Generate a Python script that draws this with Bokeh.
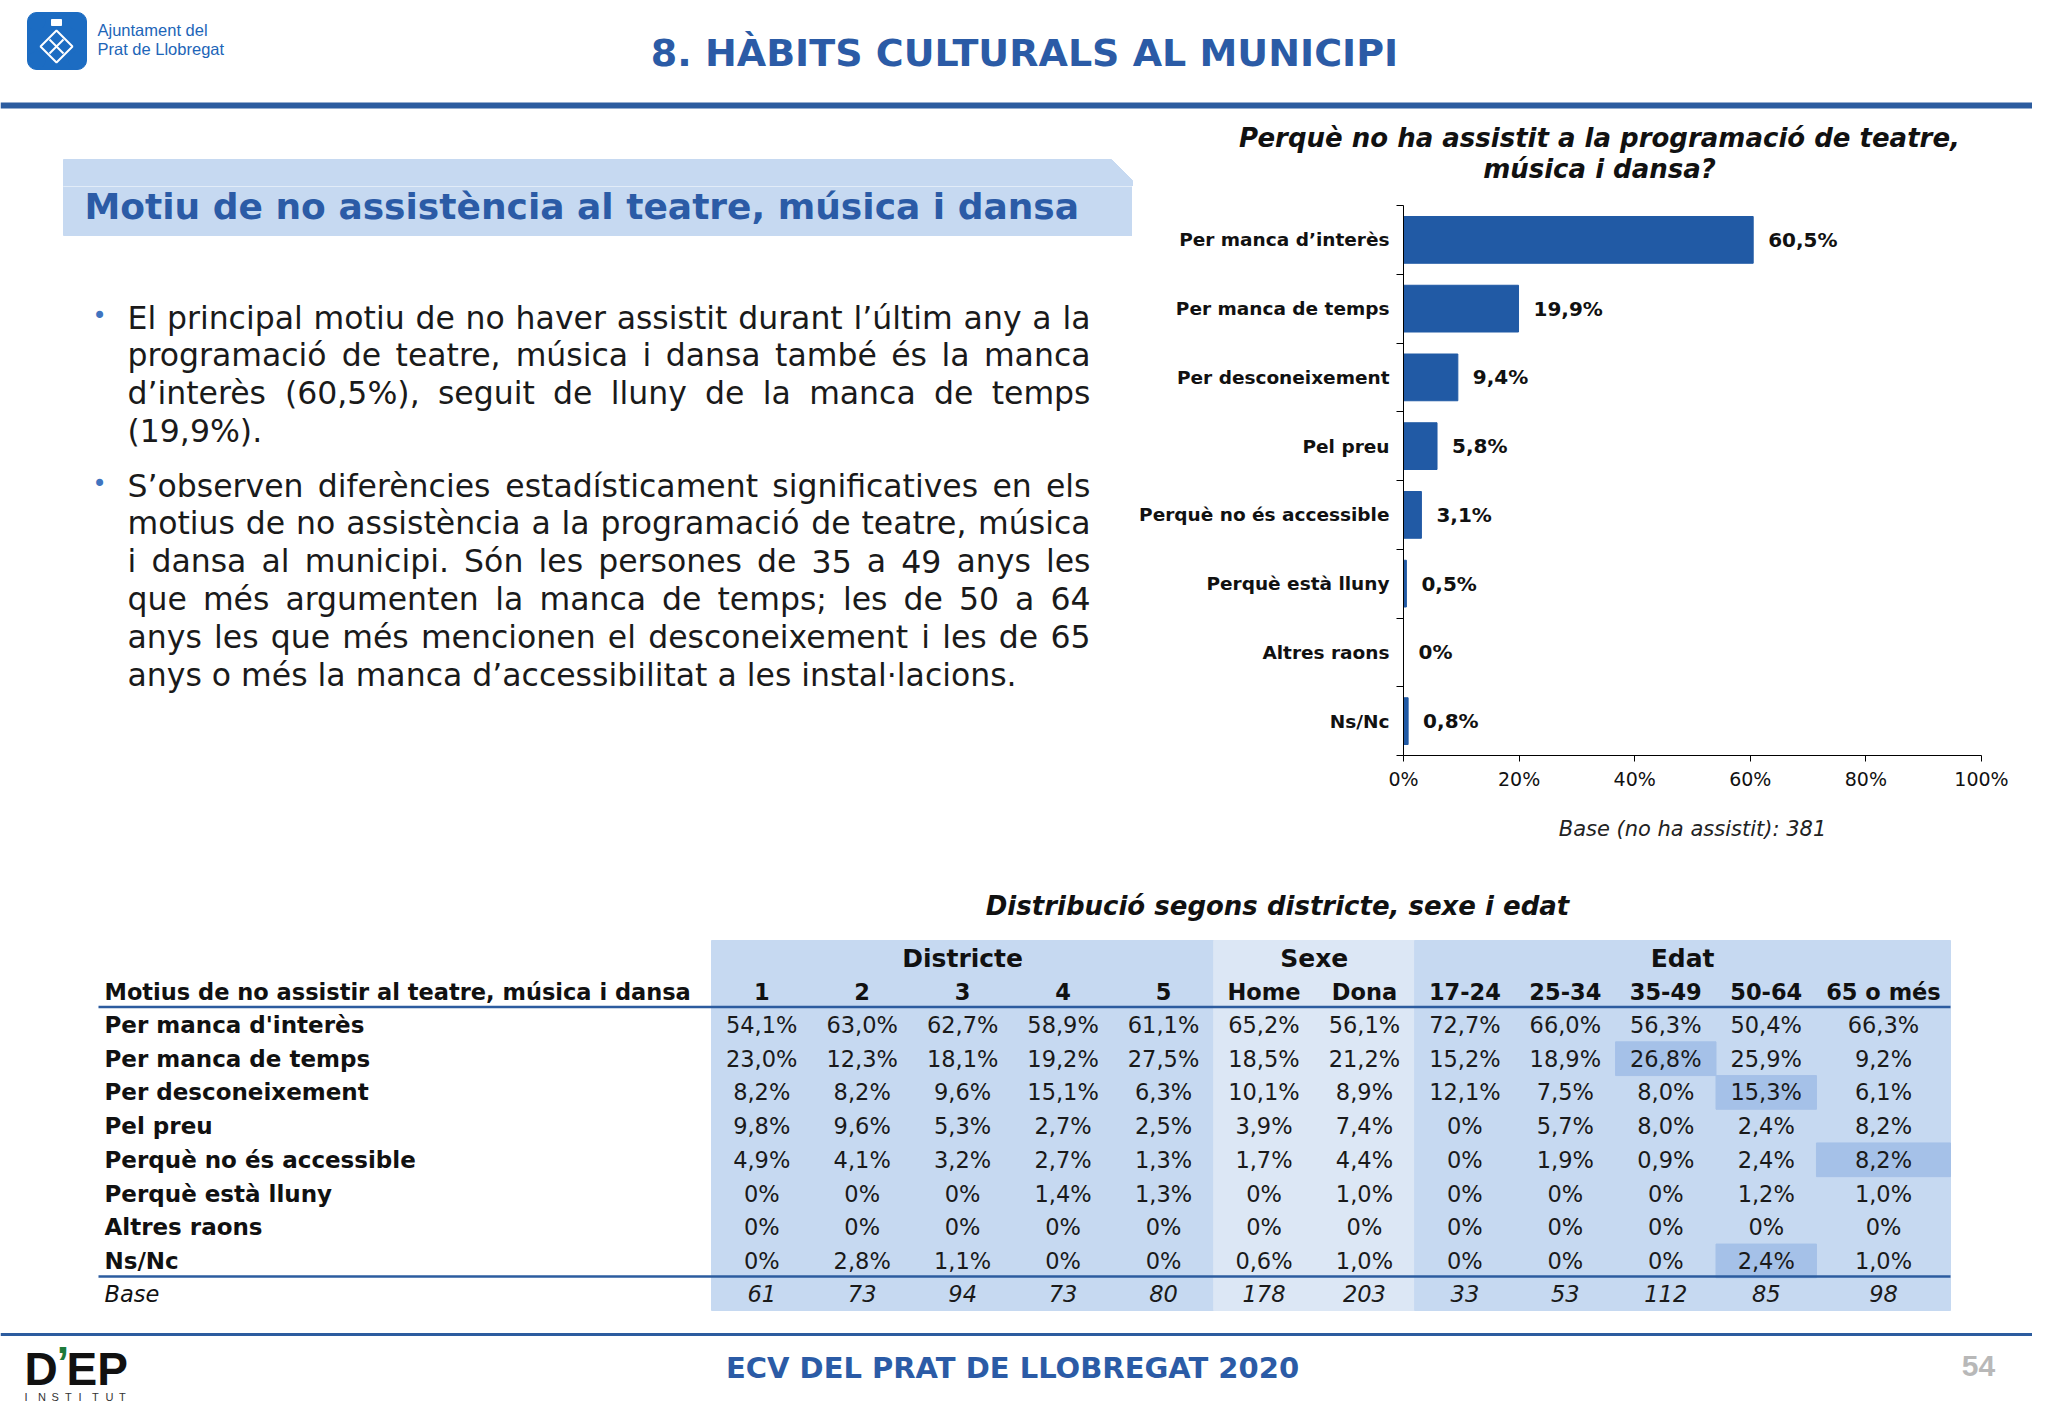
from bokeh.plotting import figure
from bokeh.layouts import column, row
from bokeh.models import Range1d, FixedTicker, PrintfTickFormatter
from bokeh.core.properties import value
from bokeh.embed import file_html
from bokeh.resources import INLINE

# ---------------- data ----------------
page_title = "8. HÀBITS CULTURALS AL MUNICIPI"
section_title = "Motiu de no assistència al teatre, música i dansa"
bullet_1 = ["El principal motiu de no haver assistit durant l’últim any a la",
            "programació de teatre, música i dansa també és la manca",
            "d’interès (60,5%), seguit de lluny de la manca de temps",
            "(19,9%)."]
bullet_2 = ["S’observen diferències estadísticament significatives en els",
            "motius de no assistència a la programació de teatre, música",
            "i dansa al municipi. Són les persones de 35 a 49 anys les",
            "que més argumenten la manca de temps; les de 50 a 64",
            "anys les que més mencionen el desconeixement i les de 65",
            "anys o més la manca d’accessibilitat a les instal·lacions."]

chart_title = ["Perquè no ha assistit a la programació de teatre,", "música i dansa?"]
categories = ["Per manca d’interès", "Per manca de temps", "Per desconeixement", "Pel preu",
              "Perquè no és accessible", "Perquè està lluny", "Altres raons", "Ns/Nc"]
values = [60.5, 19.9, 9.4, 5.8, 3.1, 0.5, 0.0, 0.8]
x_ticks = [0, 20, 40, 60, 80, 100]
base_note = "Base (no ha assistit): 381"

table_title = "Distribució segons districte, sexe i edat"
table_corner = "Motius de no assistir al teatre, música i dansa"
groups = ["Districte", "Sexe", "Edat"]
group_sizes = [5, 2, 5]
columns = ["1", "2", "3", "4", "5", "Home", "Dona", "17-24", "25-34", "35-49", "50-64", "65 o més"]
row_labels = ["Per manca d'interès", "Per manca de temps", "Per desconeixement", "Pel preu",
              "Perquè no és accessible", "Perquè està lluny", "Altres raons", "Ns/Nc"]
row_interes = [54.1, 63.0, 62.7, 58.9, 61.1, 65.2, 56.1, 72.7, 66.0, 56.3, 50.4, 66.3]
row_temps = [23.0, 12.3, 18.1, 19.2, 27.5, 18.5, 21.2, 15.2, 18.9, 26.8, 25.9, 9.2]
row_descon = [8.2, 8.2, 9.6, 15.1, 6.3, 10.1, 8.9, 12.1, 7.5, 8.0, 15.3, 6.1]
row_preu = [9.8, 9.6, 5.3, 2.7, 2.5, 3.9, 7.4, 0, 5.7, 8.0, 2.4, 8.2]
row_access = [4.9, 4.1, 3.2, 2.7, 1.3, 1.7, 4.4, 0, 1.9, 0.9, 2.4, 8.2]
row_lluny = [0, 0, 0, 1.4, 1.3, 0, 1.0, 0, 0, 0, 1.2, 1.0]
row_altres = [0, 0, 0, 0, 0, 0, 0, 0, 0, 0, 0, 0]
row_nsnc = [0, 2.8, 1.1, 0, 0, 0.6, 1.0, 0, 0, 0, 2.4, 1.0]
table_rows = [row_interes, row_temps, row_descon, row_preu, row_access, row_lluny, row_altres, row_nsnc]
base_label = "Base"
base_counts = [61, 73, 94, 73, 80, 178, 203, 33, 53, 112, 85, 98]
significant = [(1, 9), (2, 10), (4, 11), (7, 10)]  # (row, column) highlighted cells

footer_text = "ECV DEL PRAT DE LLOBREGAT 2020"
page_number = "54"


def pct(v):
    return "0%" if v == 0 else f"{v:.1f}".replace(".", ",") + "%"


# ---------------- style ----------------
BLUE_TXT = "#2B5BA6"
BLUE_LINE = "#2C5C9F"
BAR = "#215AA5"
LIGHT = "#C6D9F1"
LIGHTER = "#DCE7F5"
HILITE = "#A5C1E8"
FONT = "DejaVu Sans"
PAGE_W = 2032
SPLIT_X = 1132
HDR_H = 186
ROW_B = 880
PAGE_H = 1402


def canvas(x0, x1, y0, y1):
    p = figure(width=x1 - x0, height=y1 - y0, x_range=Range1d(x0, x1), y_range=Range1d(y1, y0),
               x_axis_type=None, y_axis_type=None, toolbar_location=None, output_backend="svg",
               min_border=0, outline_line_color=None, background_fill_color="white",
               border_fill_color="white", frame_align=False)
    p.grid.visible = False
    return p


def txt(p, xs, ys, ss, size, color="#111111", style="normal", align="left", font=FONT):
    p.text(x=xs, y=ys, text=ss, text_font=value(font), text_font_size=f"{size}px",
           text_font_style=style, text_color=color, text_align=align, text_baseline="middle")


# approximate DejaVu Sans advance widths (em) for justified paragraphs
W = {' ': .318, '%': .950, "'": .275, '(': .390, ')': .390, ',': .318, '-': .361, '.': .318,
     ':': .337, ';': .337, '’': .318, '·': .318, '?': .531,
     'E': .632, 'S': .635, 'P': .603,
     'a': .613, 'b': .635, 'c': .550, 'd': .635, 'e': .615, 'f': .352, 'g': .635, 'h': .634,
     'i': .278, 'j': .278, 'k': .579, 'l': .278, 'm': .974, 'n': .634, 'o': .612, 'p': .635,
     'q': .635, 'r': .411, 's': .521, 't': .392, 'u': .634, 'v': .592, 'w': .818, 'x': .592,
     'y': .592, 'z': .525}
for d in "0123456789":
    W[d] = .636
for a, b in zip("àáèéíòóúï", "aaeeioouí"):
    W[a] = W.get(b, .278)


def tw(s, size):
    return sum(W.get(ch, .6) for ch in s) * size


# ---------------- header ----------------
hdr = canvas(0, PAGE_W, 0, HDR_H)
LOGO = "#1C6CC2"
hdr.quad(left=[27], right=[86], top=[21], bottom=[60], color=LOGO)
hdr.quad(left=[36], right=[77], top=[12], bottom=[69], color=LOGO)
hdr.scatter(x=[36, 77, 36, 77], y=[21, 21, 60, 60], size=18, color=LOGO, marker="circle")
hdr.patch(x=[56, 72, 56, 40], y=[30, 46, 62, 46], fill_color=None, line_color="white", line_width=2)
hdr.segment(x0=[49, 49], y0=[39, 53], x1=[63, 63], y1=[53, 39], line_color="white", line_width=2)
hdr.quad(left=[51], right=[61], top=[19], bottom=[25], color="white")
txt(hdr, [97, 97], [29, 48], ["Ajuntament del", "Prat de Llobregat"], 16.5, color="#1D65B8",
    font="Liberation Sans")
txt(hdr, [1024], [52], [page_title], 38, color=BLUE_TXT, style="bold", align="center")
hdr.segment(x0=[0], y0=[105], x1=[PAGE_W], y1=[105], line_color=BLUE_LINE, line_width=6)
txt(hdr, [1599, 1599], [137, 168], chart_title, 26, style="bold italic", align="center")
hdr.patch(x=[63, SPLIT_X - 21, SPLIT_X, SPLIT_X, 63], y=[159, 159, 180, HDR_H + 1, HDR_H + 1],
          color=LIGHT)

# ---------------- left column ----------------
left = canvas(0, SPLIT_X, HDR_H, ROW_B)
left.quad(left=[63], right=[SPLIT_X], top=[HDR_H - 1], bottom=[235], color=LIGHT)
txt(left, [84], [206], [section_title], 36, color=BLUE_TXT, style="bold")

TX0, TX1, FS = 127, 1090, 31.5


def paragraph(lines, y0, dy=37.8):
    txt(left, [92], [y0 - 2], ["•"], 24, color="#3F74C0")
    for i, line in enumerate(lines):
        y = y0 + i * dy
        words = line.split(" ")
        if i == len(lines) - 1 or len(words) < 2:
            txt(left, [TX0], [y], [line], FS, color="#1A1A1A")
            continue
        widths = [tw(w, FS) for w in words]
        gap = (TX1 - TX0 - sum(widths)) / (len(words) - 1)
        xs, x = [], TX0
        for wdt in widths:
            xs.append(x)
            x += wdt + gap
        txt(left, xs[:-1], [y] * (len(words) - 1), words[:-1], FS, color="#1A1A1A")
        txt(left, [TX1], [y], [words[-1]], FS, color="#1A1A1A", align="right")


paragraph(bullet_1, 317)
paragraph(bullet_2, 485)

# ---------------- bar chart ----------------
FRAME_L, FRAME_R, FRAME_T, FRAME_B = 1403, 1981, 205, 755
n = len(categories)
ys = [n - 0.5 - i for i in range(n)]
bar = figure(width=PAGE_W - SPLIT_X, height=ROW_B - HDR_H, x_range=Range1d(0, 100),
             y_range=Range1d(0, n), toolbar_location=None, output_backend="svg",
             min_border_left=FRAME_L - SPLIT_X, min_border_right=PAGE_W - FRAME_R,
             min_border_top=FRAME_T - HDR_H, min_border_bottom=ROW_B - FRAME_B,
             outline_line_color=None, background_fill_color="white", border_fill_color="white",
             frame_align=False)
bar.title.visible = False
bar.grid.visible = False
bar.hbar(y=ys, left=0, right=values, height=0.68, color=BAR)
txt(bar, values, ys, [pct(v) for v in values], 20, style="bold")
bar.renderers[-1].glyph.x_offset = 15

xa = bar.xaxis[0]
xa.ticker = FixedTicker(ticks=x_ticks)
xa.formatter = PrintfTickFormatter(format="%d%%")
xa.major_tick_out = 6
xa.major_tick_in = 0
xa.minor_tick_out = 0
xa.major_label_standoff = 6
xa.major_label_text_font = FONT
xa.major_label_text_font_size = "19px"
xa.major_label_text_color = "#111111"
xa.axis_line_color = "#000000"
xa.major_tick_line_color = "#000000"
xa.axis_label = base_note
xa.axis_label_text_font = FONT
xa.axis_label_text_font_size = "21px"
xa.axis_label_text_font_style = "italic"
xa.axis_label_text_color = "#222222"
xa.axis_label_standoff = 24

ya = bar.yaxis[0]
ya.ticker = FixedTicker(ticks=ys, minor_ticks=list(range(n + 1)))
ya.major_label_overrides = {y: c for y, c in zip(ys, categories)}
ya.major_tick_out = 0
ya.major_tick_in = 0
ya.minor_tick_out = 7
ya.minor_tick_in = 0
ya.minor_tick_line_color = "#000000"
ya.major_label_standoff = 7
ya.major_label_text_font = FONT
ya.major_label_text_font_size = "18.5px"
ya.major_label_text_font_style = "bold"
ya.major_label_text_color = "#111111"
ya.axis_line_color = "#000000"

# ---------------- table + footer ----------------
bot = canvas(0, PAGE_W, ROW_B, PAGE_H)
TB_X0, COL_W, TB_X1 = 711, 100.45, 1950
col_l = [TB_X0 + COL_W * k for k in range(len(columns))]
col_r = col_l[1:] + [TB_X1]
col_c = [(a + b) / 2 for a, b in zip(col_l, col_r)]
TOP, BOTTOM = 940, 1310
ROW0, DY = 1024.5, 33.7
row_y = [ROW0 + DY * i for i in range(len(row_labels))]
BASE_Y = 1293

txt(bot, [1277], [905], [table_title], 26, style="bold italic", align="center")

g_start = 0
g_fill = [LIGHT, LIGHTER, LIGHT]
g_center = []
for gs, fill in zip(group_sizes, g_fill):
    l, r = col_l[g_start], col_r[g_start + gs - 1]
    bot.quad(left=[l], right=[r], top=[TOP], bottom=[BOTTOM], color=fill)
    g_center.append((l + r) / 2)
    g_start += gs
bot.quad(left=[col_l[c] for r, c in significant], right=[col_r[c] for r, c in significant],
         top=[row_y[r] - DY / 2 for r, c in significant],
         bottom=[row_y[r] + DY / 2 for r, c in significant], color=HILITE)

txt(bot, g_center, [958] * 3, groups, 25, style="bold", align="center")
txt(bot, [104], [991], [table_corner], 22.5, style="bold")
txt(bot, col_c, [991] * len(columns), columns, 22.5, style="bold", align="center")
bot.segment(x0=[98, 98], y0=[1006.5, 1276], x1=[TB_X1, TB_X1], y1=[1006.5, 1276],
            line_color=BLUE_LINE, line_width=2.5)
txt(bot, [104] * len(row_labels), row_y, row_labels, 23, style="bold")
for i, vals in enumerate(table_rows):
    txt(bot, col_c, [row_y[i]] * len(vals), [pct(v) for v in vals], 22.5, color="#1A1A1A",
        align="center")
txt(bot, [104], [BASE_Y], [base_label], 22.5, style="italic")
txt(bot, col_c, [BASE_Y] * len(base_counts), [str(b) for b in base_counts], 22.5,
    style="italic", color="#1A1A1A", align="center")

# footer
bot.segment(x0=[0], y0=[1334], x1=[PAGE_W], y1=[1334], line_color=BLUE_LINE, line_width=3)
txt(bot, [1012], [1367], [footer_text], 29, color=BLUE_TXT, style="bold", align="center")
txt(bot, [1978], [1365], [page_number], 30, color="#B8B8B8", style="bold", align="center",
    font="Liberation Sans")
txt(bot, [24], [1368], ["D"], 46, color="#111111", style="bold", font="Liberation Sans")
txt(bot, [56], [1362], ["’"], 46, color="#1E7A3A", style="bold", font="Liberation Sans")
txt(bot, [66], [1368], ["EP"], 46, color="#111111", style="bold", font="Liberation Sans")
txt(bot, [24 + 13.5 * k for k in range(8)], [1396] * 8, list("INSTITUT"), 11, color="#333333",
    font="Liberation Sans")

layout = column(hdr, row(left, bar), bot)
open("out.html", "w").write(file_html(layout, INLINE))
